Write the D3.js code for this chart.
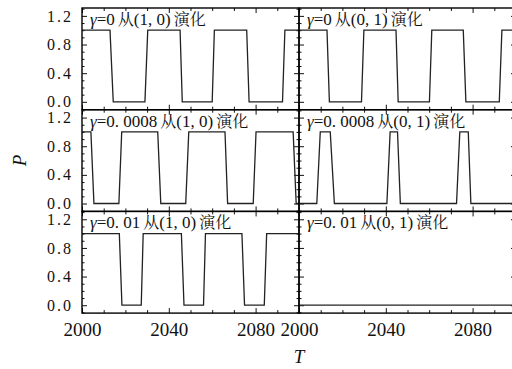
<!DOCTYPE html>
<html>
<head>
<meta charset="utf-8">
<script src="https://cdn.jsdelivr.net/npm/d3@7/dist/d3.min.js"></script>
</head>
<body style="margin:0;background:#fff">
<svg id="chart" width="512" height="369" style="display:block"></svg>
<script>
// Time grid and probability traces for each panel (piecewise-linear breakpoints)
const t1 = [2000, 2012.9, 2014.4, 2029, 2030.3, 2045.2, 2046.2, 2060, 2061, 2075.9, 2077, 2092.4, 2093.5, 2100];
const p1 = [1, 1, 0, 0, 1, 1, 0, 0, 1, 1, 0, 0, 1, 1];

const t2 = [2000, 2012.9, 2014, 2028.8, 2029.9, 2044.7, 2045.7, 2060.1, 2061.2, 2075.7, 2076.9, 2092.3, 2093.5, 2100];
const p2 = [1, 1, 0, 0, 1, 1, 0, 0, 1, 1, 0, 0, 1, 1];

const t3 = [2000, 2004.1, 2005.5, 2017, 2018.3, 2034.9, 2036.3, 2047.8, 2049.2, 2065.9, 2067.1, 2078.9, 2080.2, 2097.3, 2098.7, 2100];
const p3 = [1, 1, 0, 0, 1, 1, 0, 0, 1, 1, 0, 0, 1, 1, 0, 0];

const t4 = [2000, 2008.2, 2009.8, 2014.4, 2016.3, 2040.5, 2042, 2045.4, 2046.7, 2072.6, 2074.1, 2078, 2079.2, 2100];
const p4 = [0, 0, 1, 1, 0, 0, 1, 1, 0, 0, 1, 1, 0, 0];

const t5 = [2000, 2017.2, 2018.4, 2027.3, 2028.2, 2045.8, 2047, 2056, 2056.9, 2073.7, 2074.9, 2084, 2085.1, 2100];
const p5 = [1, 1, 0, 0, 1, 1, 0, 0, 1, 1, 0, 0, 1, 1];

const t6 = [2000, 2100];
const p6 = [0, 0];

// Panel captions: gamma value and initial state
const gammas = ["0", "0", "0.0008", "0.0008", "0.01", "0.01"];
const starts = ["(1,0)", "(0,1)", "(1,0)", "(0,1)", "(1,0)", "(0,1)"];

const xMajorTicks = [2000, 2040, 2080];
const yMajorTicks = [0, 0.4, 0.8, 1.2];

const traces = [[t1, p1], [t2, p2], [t3, p3], [t4, p4], [t5, p5], [t6, p6]];

const LATIN = "Liberation Serif";
const CJK = "Noto Serif CJK SC";

// Layout
const padLeft = 82, panelW = 217, padTop = 8, rowH = 101.7;
const svg = d3.select("#chart");

const xMinor = d3.range(2000, 2101, 10);
const yMinor = d3.range(-0.1, 1.31, 0.1).map(v => +v.toFixed(2));

traces.forEach(([ts, ps], i) => {
  const col = i % 2, row = Math.floor(i / 2);
  const x0 = padLeft + col * panelW, y0 = padTop + row * rowH;
  const x = d3.scaleLinear().domain([2000, 2100]).range([0, panelW]);
  const y = d3.scaleLinear().domain([-0.11, 1.31]).range([rowH, 0]);
  const g = svg.append("g").attr("transform", `translate(${x0},${y0})`);

  // Inward ticks on all four sides
  const addAxis = (axis, tx, ty) => {
    const a = g.append("g").attr("transform", `translate(${tx},${ty})`).call(axis);
    a.select(".domain").remove();
    a.selectAll(".tick line").attr("stroke", "#111").attr("stroke-width", 1);
    a.selectAll(".tick text").attr("font-family", LATIN).attr("fill", "#111");
    return a;
  };

  const yl = addAxis(d3.axisLeft(y).tickValues(yMajorTicks).tickSize(-5).tickPadding(9)
      .tickFormat(col === 0 ? d3.format(".1f") : () => ""), 0, 0);
  yl.selectAll(".tick text").attr("font-size", 16).style("letter-spacing", "2px");
  addAxis(d3.axisLeft(y).tickValues(yMinor.filter(v => !yMajorTicks.includes(v))).tickSize(-2.5).tickFormat(() => ""), 0, 0);
  addAxis(d3.axisRight(y).tickValues(yMajorTicks).tickSize(-5).tickFormat(() => ""), panelW, 0);
  addAxis(d3.axisRight(y).tickValues(yMinor.filter(v => !yMajorTicks.includes(v))).tickSize(-2.5).tickFormat(() => ""), panelW, 0);

  const xb = addAxis(d3.axisBottom(x).tickValues(xMajorTicks).tickSize(-5).tickPadding(9)
      .tickFormat(row === 2 ? d3.format("d") : () => ""), 0, rowH);
  xb.selectAll(".tick text").attr("font-size", 19);
  addAxis(d3.axisBottom(x).tickValues(xMinor.filter(v => !xMajorTicks.includes(v))).tickSize(-3).tickFormat(() => ""), 0, rowH);
  addAxis(d3.axisTop(x).tickValues(xMajorTicks).tickSize(-5).tickFormat(() => ""), 0, 0);
  addAxis(d3.axisTop(x).tickValues(xMinor.filter(v => !xMajorTicks.includes(v))).tickSize(-3).tickFormat(() => ""), 0, 0);

  // Trace
  const line = d3.line().x(d => x(d[0])).y(d => y(d[1]));
  g.append("path")
    .datum(ts.map((t, k) => [t, ps[k]]))
    .attr("d", line)
    .attr("fill", "none")
    .attr("stroke", "#222")
    .attr("stroke-width", 1.3);

  // Frame
  g.append("rect").attr("width", panelW).attr("height", rowH)
    .attr("fill", "none").attr("stroke", "#000").attr("stroke-width", 1.4);

  // Caption
  const cap = g.append("text").attr("font-family", LATIN).attr("x", 8).attr("y", 17)
    .attr("font-size", 17).attr("fill", "#111");
  cap.append("tspan").attr("font-style", "italic").text("γ");
  cap.append("tspan").text("=" + gammas[i].replace(".", ". "));
  cap.append("tspan").attr("dx", 3).attr("font-family", CJK).attr("font-size", 16).text("从");
  cap.append("tspan").text(starts[i].replace(",", ", "));
  cap.append("tspan").attr("dx", 3).attr("font-family", CJK).attr("font-size", 16).text("演化");
});

// Axis titles
svg.append("text").attr("font-family", LATIN)
  .attr("transform", `translate(26,${padTop + rowH * 1.5}) rotate(-90)`)
  .attr("text-anchor", "middle").attr("font-size", 19).attr("font-style", "italic")
  .attr("fill", "#111").text("P");
svg.append("text").attr("font-family", LATIN)
  .attr("x", padLeft + panelW).attr("y", 363)
  .attr("text-anchor", "middle").attr("font-size", 19).attr("font-style", "italic")
  .attr("fill", "#111").text("T");
</script>
</body>
</html>
